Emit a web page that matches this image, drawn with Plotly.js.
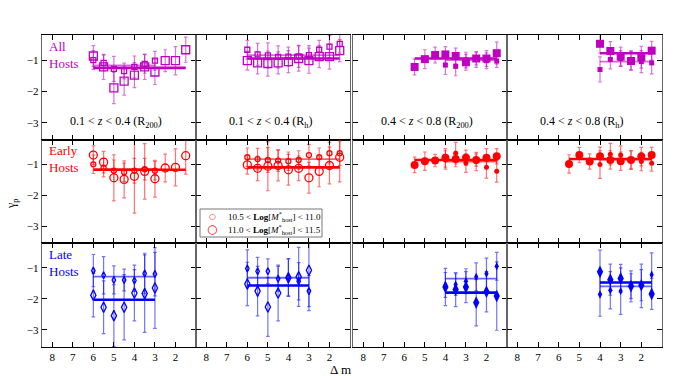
<!DOCTYPE html>
<html>
<head>
<meta charset="utf-8">
<script src="https://cdn.plot.ly/plotly-3.0.1.min.js"></script>
<style>
  html, body { margin: 0; padding: 0; background: #fff; }
  #plot { width: 691px; height: 376px; }
</style>
</head>
<body>
<div id="plot"></div>
<script>
// magnitude gap bins (Delta m)
const xFull = [6, 5.5, 5, 4.5, 4, 3.5, 3, 2.5, 2, 1.5];
const xLow7 = [6, 5.5, 5, 4.5, 4, 3.5, 3];
const xHi9 = [5.5, 5, 4.5, 4, 3.5, 3, 2.5, 2, 1.5];
const xHi6 = [4, 3.5, 3, 2.5, 2, 1.5];

const xTicks = [8, 7, 6, 5, 4, 3, 2];
const yTicks = [-1, -2, -3];
const yTickText = ['\u22121', '\u22122', '\u22123'];

const rowNames = ['All<br>Hosts', 'Early<br>Hosts', 'Late<br>Hosts'];
const colTitles = [
  '0.1 < <i>z</i> < 0.4 (R<sub>200</sub>)',
  '0.1 < <i>z</i> < 0.4 (R<sub>h</sub>)',
  '0.4 < <i>z</i> < 0.8 (R<sub>200</sub>)',
  '0.4 < <i>z</i> < 0.8 (R<sub>h</sub>)'
];
const legendNames = [
  '10.5 < <b>Log</b>[<i>M</i><sup>*</sup><sub>host</sub>] < 11.0',
  '11.0 < <b>Log</b>[<i>M</i><sup>*</sup><sub>host</sub>] < 11.5'
];

// row 1: all hosts  (s = 10.5-11.0, l = 11.0-11.5)
const all1_s = [-1.0, -1.09, -1.28, -1.35, -1.22, -1.12, -1.02];
const all1_se = [0.3, 0.25, 0.4, 0.25, 0.35, 0.3, 0.3];
const all1_l = [-0.87, -1.22, -1.89, -1.67, -1.48, -1.22, -1.38, -1.02, -1.02, -0.67];
const all1_le = [0.33, 0.4, 0.5, 0.45, 0.4, 0.4, 0.4, 0.35, 0.45, 0.4];
const all1_mean = [-1.17, -1.25];

const all2_s = [-0.67, -0.82, -0.85, -0.9, -0.89, -0.88, -0.84, -0.67, -0.57, -0.48];
const all2_se = [0.3, 0.35, 0.4, 0.35, 0.3, 0.35, 0.3, 0.3, 0.35, 0.3];
const all2_l = [-1.02, -1.09, -1.11, -1.09, -1.05, -0.95, -1.02, -0.89, -0.89, -0.7];
const all2_le = [0.3, 0.35, 0.4, 0.35, 0.35, 0.4, 0.4, 0.35, 0.4, 0.35];
const all2_mean = [-0.84, -0.95];

const all3_s = [-1.16, -1.2, -1.0, -0.98, -1.02, -1.03];
const all3_se = [0.3, 0.3, 0.25, 0.25, 0.25, 0.2];
const all3_l = [-1.22, -0.97, -0.84, -0.82, -0.87, -1.07, -0.95, -0.95, -0.78];
const all3_le = [0.25, 0.3, 0.25, 0.25, 0.25, 0.25, 0.2, 0.25, 0.35];
const all3_mean = [-1.0, -0.95];

const all4_s = [-1.3, -0.98, -0.95, -1.0, -1.05, -1.09];
const all4_se = [0.4, 0.3, 0.25, 0.3, 0.35, 0.35];
const all4_l = [-0.48, -0.71, -0.89, -1.03, -0.91, -0.7];
const all4_le = [0.3, 0.3, 0.3, 0.3, 0.35, 0.3];
const all4_mean = [-1.05, -0.78];

// row 2: early-type hosts
const early1_s = [-0.99, -1.1, -1.2, -1.25, -1.2, -1.15, -1.2];
const early1_se = [0.3, 0.3, 0.35, 0.3, 0.4, 0.35, 0.3];
const early1_l = [-0.69, -0.92, -1.43, -1.48, -1.38, -1.22, -1.46, -1.11, -1.09, -0.71];
const early1_le = [0.3, 0.35, 0.75, 0.6, 1.2, 0.9, 0.6, 0.45, 0.6, 0.6];
const early1_mean = [-1.15, -1.17];

const early2_s = [-0.76, -0.82, -0.85, -0.87, -0.89, -0.85, -0.69, -0.76, -0.63, -0.63];
const early2_se = [0.3, 0.35, 0.4, 0.35, 0.3, 0.3, 0.35, 0.3, 0.35, 0.4];
const early2_l = [-1.01, -1.12, -1.05, -1.03, -1.17, -1.12, -1.43, -1.22, -1.03, -0.76];
const early2_le = [0.3, 0.4, 0.8, 0.5, 0.5, 0.4, 0.5, 0.5, 0.6, 0.8];
const early2_mean = [-0.82, -1.09];

const early3_s = [-0.85, -0.63, -0.95, -0.9, -1.09, -1.22];
const early3_se = [0.3, 0.35, 0.3, 0.3, 0.35, 0.35];
const early3_l = [-1.01, -0.89, -0.87, -0.78, -0.82, -0.78, -0.85, -0.78, -0.73];
const early3_le = [0.25, 0.3, 0.2, 0.3, 0.25, 0.25, 0.2, 0.3, 0.25];
const early3_mean = [-0.9, -0.85];

const early4_s = [-1.0, -0.66, -0.69, -0.85, -0.9, -0.96];
const early4_se = [0.45, 0.35, 0.3, 0.3, 0.3, 0.25];
const early4_l = [-0.98, -0.69, -0.9, -0.73, -0.85, -0.89, -0.85, -0.74, -0.69];
const early4_le = [0.3, 0.25, 0.25, 0.3, 0.3, 0.3, 0.3, 0.3, 0.25];
const early4_mean = [-0.84, -0.82];

// row 3: late-type hosts
const late1_s = [-1.09, -1.24, -1.39, -1.39, -1.41, -1.18, -1.2];
const late1_se = [0.52, 0.6, 0.45, 0.35, 0.35, 0.65, 0.7];
const late1_l = [-1.88, -2.27, -2.54, -2.27, -1.81, -1.83, -1.65];
const late1_le = [0.7, 0.85, 1.0, 1.05, 0.9, 1.25, 1.3];
const late1_mean = [-1.28, -2.03];

const late2_s = [-1.02, -1.11, -1.11, -1.35, -1.3, -1.43, -1.75];
const late2_se = [0.6, 0.45, 0.4, 0.4, 0.6, 0.6, 0.5];
const late2_l = [-1.52, -1.75, -2.26, -1.81, -1.32, -1.29, -1.08];
const late2_le = [0.7, 0.8, 0.95, 0.9, 0.6, 0.95, 1.3];
const late2_mean = [-1.32, -1.57];

const late3_s = [-1.55, -1.54, -1.43, -1.29, -1.19, -0.95];
const late3_se = [0.4, 0.35, 0.4, 0.45, 0.5, 0.45];
const late3_l = [-1.62, -1.7, -1.62, -2.12, -1.77, -1.91];
const late3_le = [0.6, 0.55, 0.5, 0.75, 0.65, 1.1];
const late3_mean = [-1.35, -1.8];

const late4_s = [-1.86, -1.72, -1.75, -1.6, -1.58, -1.22];
const late4_se = [0.7, 0.6, 0.75, 0.5, 0.7, 0.7];
const late4_l = [-1.13, -1.38, -1.34, -1.59, -1.56, -1.84];
const late4_le = [0.7, 0.5, 0.45, 0.4, 0.5, 0.5];
const late4_mean = [-1.6, -1.47];

// styling
const W = 691, H = 376;
const colPx = [[42, 196], [196, 350], [353, 507], [507, 662]];
const rowPx = [[35, 140], [140, 243], [243, 347]];
const rowColor = ['#c000c0', '#ff0000', '#0000ff'];
const rowErr = ['rgba(192,0,192,0.55)', 'rgba(255,0,0,0.55)', 'rgba(0,0,255,0.55)'];
const rowSymbol = ['square', 'circle', 'diamond-tall'];
// [open small, open large, filled small, filled large]
const markSize = [[5, 8, 5, 8], [5, 8, 5, 8], [5, 7.5, 6, 9]];
const FONT = 'Liberation Serif, Times New Roman, serif';

const panels = [
  [xLow7, all1_s, all1_se, xFull, all1_l, all1_le, all1_mean],
  [xFull, all2_s, all2_se, xFull, all2_l, all2_le, all2_mean],
  [xHi6, all3_s, all3_se, xHi9, all3_l, all3_le, all3_mean],
  [xHi6, all4_s, all4_se, xHi6, all4_l, all4_le, all4_mean],
  [xLow7, early1_s, early1_se, xFull, early1_l, early1_le, early1_mean],
  [xFull, early2_s, early2_se, xFull, early2_l, early2_le, early2_mean],
  [xHi6, early3_s, early3_se, xHi9, early3_l, early3_le, early3_mean],
  [xHi6, early4_s, early4_se, xHi9, early4_l, early4_le, early4_mean],
  [xLow7, late1_s, late1_se, xLow7, late1_l, late1_le, late1_mean],
  [xLow7, late2_s, late2_se, xLow7, late2_l, late2_le, late2_mean],
  [xHi6, late3_s, late3_se, xHi6, late3_l, late3_le, late3_mean],
  [xHi6, late4_s, late4_se, xHi6, late4_l, late4_le, late4_mean]
];

const traces = [];
const layout = {
  width: W, height: H,
  margin: {l: 0, r: 0, t: 0, b: 0},
  paper_bgcolor: '#fff', plot_bgcolor: '#fff',
  font: {family: FONT, size: 11, color: '#000'},
  showlegend: false,
  annotations: [],
  shapes: []
};

panels.forEach(function (p, i) {
  const r = Math.floor(i / 4), c = i % 4;
  const n = i + 1;
  const xa = 'x' + (n === 1 ? '' : n), ya = 'y' + (n === 1 ? '' : n);
  const filled = c >= 2;
  const sym = rowSymbol[r] + (filled ? '' : '-open');
  const off = filled ? 2 : 0;

  // mean lines
  [[p[0], p[6][0], 1.8, 0.6], [p[3], p[6][1], 2.6, 1]].forEach(function (m) {
    traces.push({
      x: [Math.max.apply(null, m[0]), Math.min.apply(null, m[0])],
      y: [m[1], m[1]],
      xaxis: xa, yaxis: ya, mode: 'lines',
      hoverinfo: 'skip', opacity: m[3],
      line: {color: rowColor[r], width: m[2]}
    });
  });

  // two host-mass samples
  [[p[0], p[1], p[2], markSize[r][off]], [p[3], p[4], p[5], markSize[r][off + 1]]].forEach(function (s) {
    traces.push({
      x: s[0], y: s[1], xaxis: xa, yaxis: ya,
      mode: 'markers', type: 'scatter',
      marker: {
        symbol: sym, size: s[3], color: rowColor[r],
        line: {width: filled ? 0 : 1.3}
      },
      error_y: {type: 'data', array: s[2], visible: true,
        color: rowErr[r], thickness: 1.2, width: 1.8}
    });
  });

  const xd = [colPx[c][0] / W, colPx[c][1] / W];
  const yd = [1 - rowPx[r][1] / H, 1 - rowPx[r][0] / H];
  layout['xaxis' + (n === 1 ? '' : n)] = {
    domain: xd, anchor: ya, range: [8.5, 1.0],
    tickvals: xTicks, showticklabels: r === 2,
    ticks: 'inside', ticklen: 5, tickwidth: 1, tickcolor: '#000',
    mirror: 'allticks', showline: true, linecolor: '#000', linewidth: 1.2,
    showgrid: false, zeroline: false,
    tickfont: {family: FONT, size: 11}
  };
  layout['yaxis' + (n === 1 ? '' : n)] = {
    domain: yd, anchor: xa, range: [-3.55, -0.2],
    tickvals: yTicks, ticktext: yTickText, showticklabels: c === 0,
    ticks: 'inside', ticklen: 5, tickwidth: 1, tickcolor: '#000',
    mirror: 'allticks', showline: true, linecolor: '#666', linewidth: 1.4,
    showgrid: false, zeroline: false,
    tickfont: {family: FONT, size: 11}
  };
});

// row labels
const rowLabelTop = [37, 141, 245];
rowNames.forEach(function (t, r) {
  layout.annotations.push({
    text: t, xref: 'paper', yref: 'paper',
    x: 47 / W, y: 1 - rowLabelTop[r] / H, xanchor: 'left', yanchor: 'top',
    align: 'left', showarrow: false,
    font: {family: FONT, size: 13, color: rowColor[r]}
  });
});

// panel titles along the bottom of the top row
colTitles.forEach(function (t, c) {
  layout.annotations.push({
    text: t, xref: 'paper', yref: 'paper',
    x: ((colPx[c][0] + colPx[c][1]) / 2 - 3) / W, y: 1 - 122 / H,
    xanchor: 'center', yanchor: 'middle', showarrow: false,
    font: {family: FONT, size: 12}
  });
});

// legend box in the early-hosts R_h panel
layout.shapes.push({
  type: 'rect', xref: 'paper', yref: 'paper',
  x0: 200 / W, x1: 322 / W, y0: 1 - 237 / H, y1: 1 - 209 / H,
  line: {color: '#777', width: 1}, fillcolor: '#fff', layer: 'above'
});
const legendGlyph = ['\u25cb', '\u25cb'];
const legendGlyphSize = [8, 12];
const legendRowY = [216, 229];
legendNames.forEach(function (t, k) {
  layout.annotations.push({
    text: legendGlyph[k], xref: 'paper', yref: 'paper',
    x: 212 / W, y: 1 - legendRowY[k] / H, xanchor: 'center', yanchor: 'middle',
    showarrow: false, font: {family: 'DejaVu Sans', size: legendGlyphSize[k], color: '#ff0000'}
  });
  layout.annotations.push({
    text: t, xref: 'paper', yref: 'paper',
    x: 226 / W, y: 1 - legendRowY[k] / H, xanchor: 'left', yanchor: 'middle',
    showarrow: false, font: {family: FONT, size: 9}
  });
});

// axis labels
layout.annotations.push({
  text: '\u03b3<sub>p</sub>', xref: 'paper', yref: 'paper',
  x: 12 / W, y: 1 - 204 / H, textangle: -90, showarrow: false,
  xanchor: 'center', yanchor: 'middle',
  font: {family: FONT, size: 12}
});
layout.annotations.push({
  text: '\u0394 m', xref: 'paper', yref: 'paper',
  x: 340 / W, y: 1 - 369 / H, showarrow: false,
  xanchor: 'center', yanchor: 'middle',
  font: {family: FONT, size: 13}
});

Plotly.newPlot('plot', traces, layout, {displayModeBar: false, staticPlot: true});
</script>
</body>
</html>
